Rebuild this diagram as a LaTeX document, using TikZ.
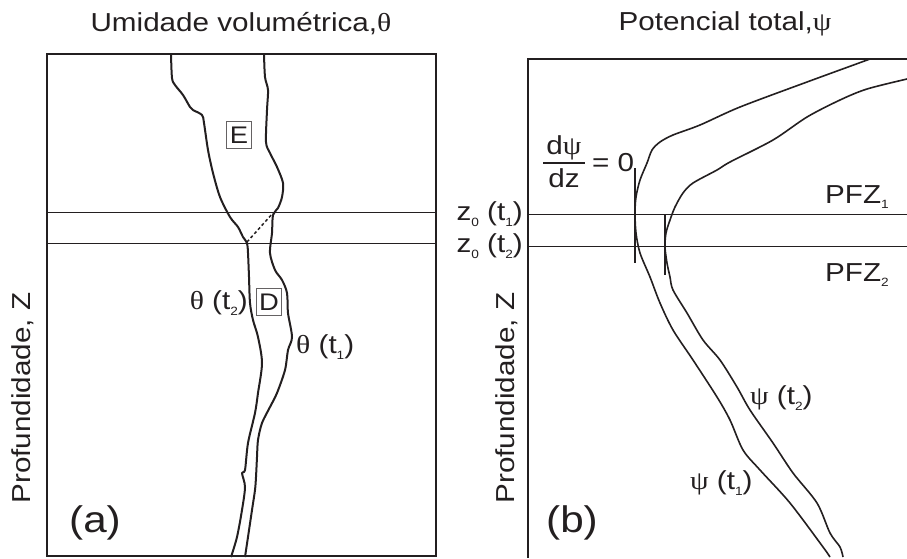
\documentclass[tikz,border=0pt]{standalone}
\usepackage{fontspec}
\setmainfont{Liberation Sans}[FakeStretch=1.14]
\newfontfamily\greekfont{Liberation Serif}[FakeStretch=1.14]
\usepackage{xcolor}
\usepackage{tikz}
\usetikzlibrary{positioning}
\definecolor{ink}{HTML}{231F20}
\newcommand{\gr}[1]{{\greekfont #1}}
\newcommand{\low}[1]{\raisebox{-0.4ex}{\fontsize{12}{12}\selectfont #1}}

\begin{document}
\begin{tikzpicture}[x=1pt, y=-1pt,
    frame/.style={draw=ink, line width=2pt},
    layer/.style={draw=ink, line width=0.9pt},
    profile/.style={draw=ink, line width=2pt, line join=round},
    label/.style={text=ink, inner sep=0pt, font=\fontsize{26}{30}\selectfont},
    tag/.style={draw=ink!70, line width=0.8pt, text=ink, inner sep=0pt, minimum width=25pt, minimum height=27pt, font=\fontsize{24}{30}\selectfont}]
    \useasboundingbox (0,0) rectangle (907,558);

    % (a) Umidade
    \node[label] (titlea) at (241,24) {Umidade volumétrica,\gr{θ}};
    \draw[frame] (47,54) rectangle (436,556);
    \draw[layer] (47,212) -- (436,212);
    \draw[layer] (47,243) -- (436,243);
    \draw[profile] plot[smooth, tension=0.5] coordinates {(171,54) (172,78) (175,85) (183,95) (190,107) (193,110) (202,115) (204,123) (208,150) (213,173) (220,197) (230,217) (238,227) (243,237) (247,243) (248,253) (249,277) (250,303) (253,320) (258,337) (262,363) (258,393) (255,413) (248,443) (245,470) (242,473) (245,487) (242,510) (237,537) (231,557)};
    \draw[profile] plot[smooth, tension=0.5] coordinates {(264,54) (265,77) (268,90) (267,110) (266,142) (270,153) (277,167) (283,183) (282,197) (278,208) (273,215) (272,233) (270,253) (275,270) (282,280) (287,293) (288,313) (292,337) (288,350) (285,370) (277,393) (270,407) (262,423) (258,440) (257,457) (256,477) (255,490) (252,510) (248,537) (245,557)};
    \draw[draw=ink, line width=1.5pt, dash pattern=on 3pt off 2.5pt] (247,242) -- (273,213);

    \node[tag] (E) at (239,135) {E};
    \node[tag] (D) at (269,302) {D};
    \node[label, anchor=east] (tha) at (248,303) {\gr{θ} (t\low{2})};
    \node[label, anchor=west] (thb) at (296,347) {\gr{θ} (t\low{1})};
    \node[label, rotate=90] (deptha) at (23,398) {Profundidade, Z};
    \node[label, font=\fontsize{37}{44}\selectfont] (pa) at (95,523) {(a)};

    % (b) Potencial
    \node[label] (titleb) at (725,24) {Potencial total,\gr{ψ}};
    \draw[frame] (907,59) -- (528,59) -- (528,558);
    \draw[layer] (528,214) -- (907,214);
    \draw[layer] (528,246) -- (907,246);
    \draw[profile, line width=1.6pt] plot[smooth, tension=0.5] coordinates {(870,59) (807,82) (740,107) (700,125) (673,135) (660,142) (652,150) (647,163) (640,180) (636,197) (635,213) (636,233) (640,253) (650,277) (660,303) (673,330) (693,360) (717,397) (730,420) (743,450) (760,470) (790,503) (823,547) (830,557)};
    \draw[profile, line width=1.6pt] plot[smooth, tension=0.5] coordinates {(907,79) (867,89) (840,100) (807,117) (773,140) (730,162) (717,170) (693,183) (683,193) (675,207) (670,220) (666,233) (665,247) (667,263) (670,277) (673,290) (687,313) (703,340) (720,360) (737,387) (750,410) (773,443) (793,473) (817,503) (830,533) (840,547) (843,557)};
    \draw[frame] (635,168) -- (635,263);
    \draw[frame] (665,215) -- (665,275);

    \node[label] (dpsi) at (564,148) {d\gr{ψ}};
    \node[label] (dz) at (564,178) {dz};
    \draw[draw=ink, line width=2.5pt] (543,163) -- (585,163);
    \node[label, anchor=west] (zero) at (592,163) {= 0};
    \node[label, anchor=east] (zta) at (523,214) {z\low{0} (t\low{1})};
    \node[label, anchor=east] (ztb) at (523,246) {z\low{0} (t\low{2})};
    \node[label, anchor=west] (pfza) at (825,197) {PFZ\low{1}};
    \node[label, anchor=west] (pfzb) at (825,275) {PFZ\low{2}};
    \node[label, anchor=west] (psb) at (750,398) {\gr{ψ} (t\low{2})};
    \node[label, anchor=west] (psa) at (690,483) {\gr{ψ} (t\low{1})};
    \node[label, rotate=90] (depthb) at (507,398) {Profundidade, Z};
    \node[label, font=\fontsize{37}{44}\selectfont] (pb) at (572,523) {(b)};
\end{tikzpicture}
\end{document}
